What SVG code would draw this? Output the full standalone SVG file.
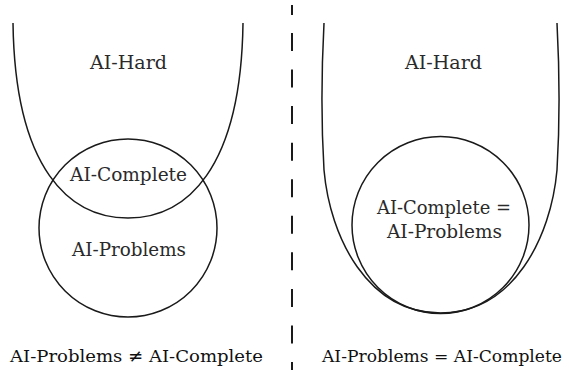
<svg xmlns="http://www.w3.org/2000/svg" width="569" height="370" viewBox="0 0 569 370">
<style>
.s{fill:none;stroke:#1a1a1a;stroke-width:1.5}
.t{font-family:'DejaVu Serif',serif;font-size:18px;fill:#2a2a2a;text-anchor:middle}
.b{font-family:'DejaVu Serif',serif;font-size:17.5px;fill:#111;text-anchor:middle}
.d{stroke:#1a1a1a;stroke-width:2;fill:none}
</style>
<rect width="569" height="370" fill="#fff"/>
<g id="left">
<g id="left-ai-hard"><path class="s" d="M13,23 C15,170 70,218 128,218 C186,218 241,170 243,23"/><text class="t" x="128.5" y="69" textLength="77" lengthAdjust="spacingAndGlyphs">AI-Hard</text></g>
<g id="left-ai-problems"><circle class="s" cx="128" cy="228" r="89"/><text class="t" x="129" y="256" textLength="114" lengthAdjust="spacingAndGlyphs">AI-Problems</text></g>
<g id="left-ai-complete"><text class="t" x="128.5" y="181" textLength="117" lengthAdjust="spacingAndGlyphs">AI-Complete</text></g>
<text class="b" x="136.5" y="362" textLength="253" lengthAdjust="spacingAndGlyphs">AI-Problems ≠ AI-Complete</text>
</g>
<g id="divider">
<line class="d" x1="292" y1="5" x2="292" y2="15"/>
<line class="d" x1="292" y1="33" x2="292" y2="370" stroke-dasharray="18 18.56"/>
</g>
<g id="right">
<g id="right-ai-hard"><path class="s" d="M324,23 C321,80 321,120 324,170 C330,238 368,313 440.5,313 C513,313 551,238 557,170 C560,120 560,80 557,23"/><text class="t" x="443.5" y="69" textLength="77" lengthAdjust="spacingAndGlyphs">AI-Hard</text></g>
<g id="right-ai-complete"><circle class="s" cx="440.5" cy="225" r="88.5"/><text class="t" x="444" y="214" textLength="134" lengthAdjust="spacingAndGlyphs">AI-Complete =</text><text class="t" x="444.5" y="238" textLength="115" lengthAdjust="spacingAndGlyphs">AI-Problems</text></g>
<text class="b" x="442" y="362" textLength="240" lengthAdjust="spacingAndGlyphs">AI-Problems = AI-Complete</text>
</g>
<g id="connectors"></g>
</svg>
